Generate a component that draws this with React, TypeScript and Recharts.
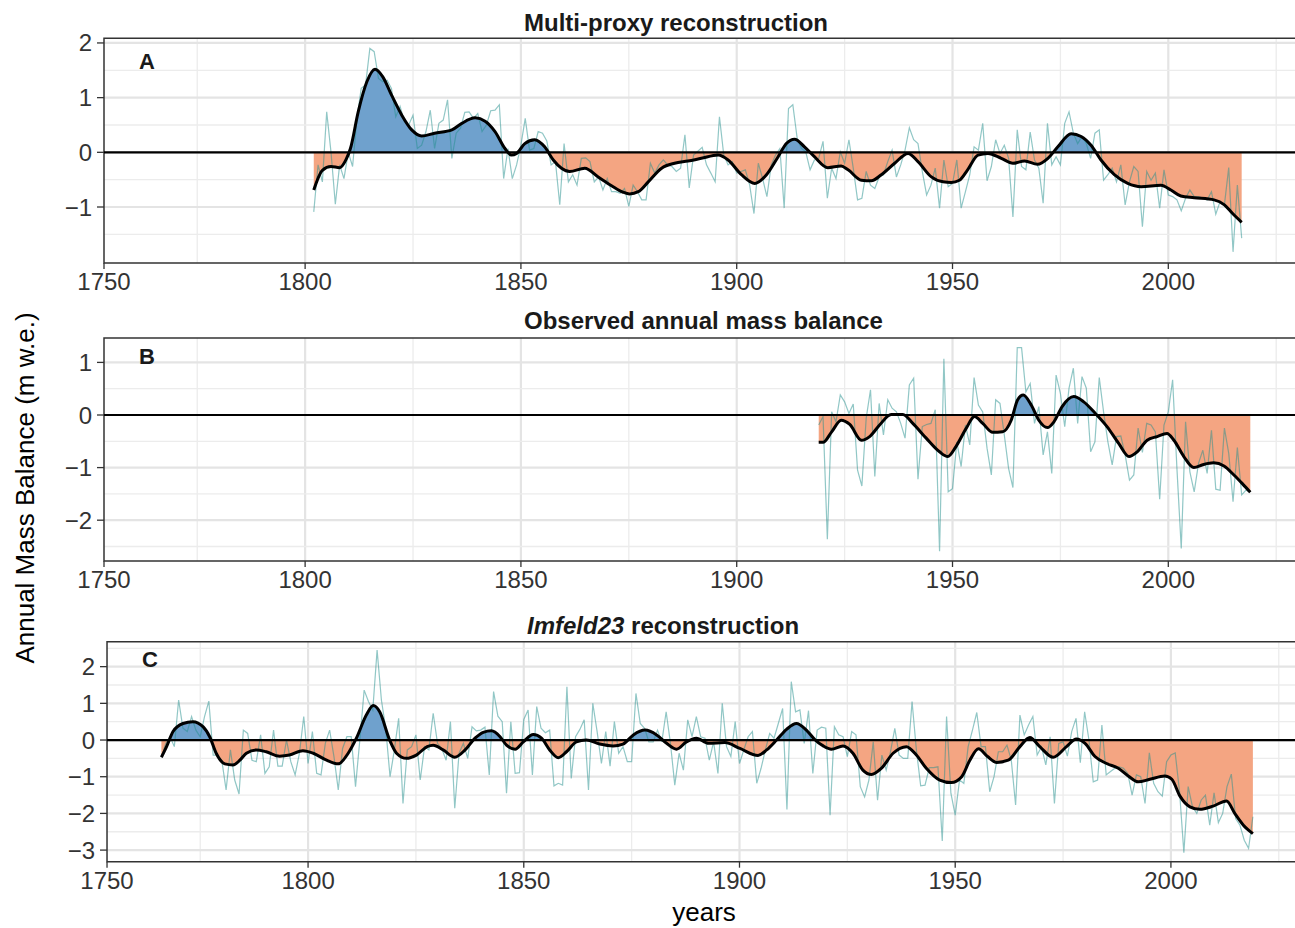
import { ComposedChart, Area, Line, XAxis, YAxis, CartesianGrid, ReferenceLine, ReferenceArea } from "recharts"

const FONT = "'Liberation Sans', Arial, Helvetica, sans-serif"
const BLUE = "#6fa1cd"
const SALMON = "#f4a582"
const TEAL = "#23908e"

const xTicks = [1753.4, 1800, 1850, 1900, 1950, 2000]
const xTickLabels = ["1750", "1800", "1850", "1900", "1950", "2000"]
const xMajor = [1800, 1850, 1900, 1950, 2000]
const xMinor = [1775, 1825, 1875, 1925, 1975, 2025]

// A: multi-proxy reconstruction
const proxyStart = 1802
const proxyAnnual = [
  -1.09, -0.23, -0.54, 0.74, 0.0, -0.95, -0.23, -0.48,
  0.0, -0.26, 0.62, 1.17, 1.23, 1.90, 1.84, 1.35, 1.29, 1.32,
  1.17, 0.65, 0.84, 0.56, 0.50, 0.68, 0.07, 0.13, 0.38, 0.77,
  0.07, 0.53, 0.59, 0.96, -0.11, 0.35, 0.44, 0.73, 0.74, 0.62,
  0.71, 0.38, 0.50, 0.76, 0.77, 0.87, -0.48, 0.07, -0.48, -0.23,
  0.13, 0.62, 0.04, 0.07, 0.38, 0.35, 0.21, -0.23, -0.17, -0.96,
  0.16, -0.54, -0.41, -0.60, -0.11, -0.10, -0.17, -0.54, -0.45, -0.69,
  -0.48, -0.72, -0.72, -0.75, -0.66, -0.99, -0.60, -0.72, -0.87, -0.87,
  -0.20, -0.38, -0.23, -0.14, -0.23, -0.26, -0.35, -0.29, 0.32, -0.65,
  -0.05, 0.02, 0.09, -0.23, -0.38, -0.54, 0.65, -0.05, -0.23, -0.17,
  -0.38, -0.35, -0.32, -0.60, -1.12, -0.20, -0.48, -0.81, -0.23, -0.05,
  0.07, -1.02, 0.80, 0.87, 0.26, 0.07, 0.01, -0.32, -0.14, -0.11,
  0.20, -0.84, -0.29, -0.48, 0.01, -0.20, 0.23, -0.29, -0.87, -0.84,
  -0.35, -0.60, -0.66, -0.45, -0.41, -0.17, 0.04, -0.45, -0.23, 0.04,
  0.45, 0.23, 0.16, -0.35, -0.78, -0.60, -0.29, -1.02, -0.14, -0.63,
  -0.57, -0.14, -1.02, -0.72, -0.41, 0.10, 0.04, 0.53, -0.52, -0.26,
  0.23, -0.02, 0.13, -0.11, -1.18, 0.41, -0.26, -0.32, 0.37, -0.14,
  -0.29, -0.93, 0.53, -0.23, -0.08, -0.23, 0.53, 0.74, 0.35, 0.16,
  0.29, 0.16, -0.11, 0.35, 0.41, -0.51, -0.41, -0.29, -0.54, -0.23,
  -0.96, -0.54, -0.26, -0.35, -1.36, -0.35, -0.51, -0.38, -1.02, -0.32,
  -0.78, -0.81, -0.87, -1.07, -0.84, -0.69, -0.81, -0.81, -0.84, -0.87,
  -0.72, -1.13, -0.90, -0.96, -0.28, -1.82, -0.60, -1.57,
]
const proxySmooth: [number, number][] = [
  [1802, -0.69], [1804, -0.33], [1806, -0.26], [1808, -0.28], [1809.5, -0.13], [1810.5, 0.07],
  [1812.3, 0.74], [1814.3, 1.29], [1816.2, 1.52], [1818, 1.38], [1820, 1.05], [1822.4, 0.68],
  [1824.7, 0.41], [1827, 0.30], [1830, 0.35], [1834, 0.41], [1836.3, 0.53], [1839.4, 0.63],
  [1841.7, 0.57], [1844, 0.38], [1846.3, 0.07], [1847.8, -0.05], [1849, -0.02], [1850.9, 0.16],
  [1853.2, 0.23], [1855.5, 0.10], [1857.5, -0.14], [1859.4, -0.29], [1861.3, -0.35], [1864.8, -0.29],
  [1867.9, -0.45], [1871, -0.61], [1873.7, -0.73], [1875.2, -0.76], [1877.2, -0.72], [1879.5, -0.54],
  [1882.6, -0.29], [1885.6, -0.20], [1888.7, -0.16], [1891.8, -0.11], [1895.7, -0.05], [1898, -0.14],
  [1901.1, -0.41], [1904.2, -0.57], [1906.9, -0.41], [1909.6, -0.08], [1911.5, 0.16], [1913.4, 0.24],
  [1915.7, 0.10], [1918, -0.08], [1921.1, -0.28], [1924.2, -0.25], [1925.8, -0.32], [1928.9, -0.51],
  [1931.2, -0.52], [1933.5, -0.41], [1936.6, -0.20], [1939.7, -0.02], [1942, -0.17], [1945.1, -0.45],
  [1947.8, -0.54], [1949.7, -0.55], [1951.6, -0.51], [1953.5, -0.32], [1955.9, -0.05], [1958.2, -0.02],
  [1961.3, -0.11], [1964, -0.20], [1966.7, -0.16], [1969.7, -0.22], [1972.1, -0.11], [1974.4, 0.10],
  [1977.5, 0.34], [1979.8, 0.29], [1982.1, 0.13], [1984.4, -0.14], [1987.5, -0.41], [1990.6, -0.57],
  [1993.7, -0.63], [1998.3, -0.60], [2000.6, -0.69], [2002.9, -0.80], [2006, -0.83], [2010.6, -0.87],
  [2013, -0.96], [2014.9, -1.12], [2017, -1.28],
]

// B: observed annual mass balance
const obsStart = 1919
const obsAnnual = [
  -0.19,
  -0.03, -2.36, 0.06, -0.13, 0.38, 0.25, 0.03, 0.21, -1.05, -1.35,
  -0.06, 0.48, -1.17, 0.22, -0.38, 0.29, 0.13, 0.06, -0.16, -0.44,
  0.57, 0.70, -1.22, -0.22, -0.18, -0.16, 0.10, -2.59, 1.07, -1.46,
  -1.40, -0.51, -0.98, -0.19, -0.57, 0.71, 0.19, 0.06, -0.63, -1.14,
  0.29, 0.22, -0.38, -1.02, -1.38, 1.28, 1.28, 0.44, 0.60, -0.16,
  0.16, -0.76, -0.32, -1.11, 0.76, 0.41, -0.22, 0.51, 0.89, -0.16,
  0.73, 0.51, -0.70, -0.51, 0.71, 0.06, -0.51, -0.95, -0.41, -0.40,
  -0.76, -1.24, -1.14, -0.25, -0.71, -0.16, -0.19, -0.32, -1.60, -0.19,
  0.06, 0.67, -1.02, -2.54, -0.13, -1.08, -1.46, -0.92, -0.67, -1.11,
  -0.29, -1.41, -1.43, -0.25, -0.73, -1.65, -0.62, -1.52, -1.43, -1.46,
]
const obsSmooth: [number, number][] = [
  [1919, -0.52], [1920, -0.52], [1922, -0.32], [1924.2, -0.10], [1926.2, -0.18], [1928.9, -0.48],
  [1930.8, -0.41], [1933.1, -0.19], [1935.8, 0.01], [1938.5, 0.01], [1940.8, -0.16], [1943.9, -0.44],
  [1947, -0.70], [1948.9, -0.79], [1950.8, -0.60], [1953.2, -0.25], [1955.1, -0.03], [1957, -0.16],
  [1959.3, -0.33], [1961.6, -0.32], [1963.6, -0.10], [1965.1, 0.29], [1966.4, 0.38], [1968.3, 0.18],
  [1970, -0.10], [1972, -0.24], [1973.5, -0.13], [1975.4, 0.16], [1978.1, 0.35], [1980.4, 0.25],
  [1983.1, 0.03], [1985.8, -0.22], [1988.5, -0.54], [1990.9, -0.79], [1992.8, -0.70], [1995.1, -0.48],
  [1997.4, -0.41], [1999.7, -0.35], [2001.3, -0.48], [2003.6, -0.79], [2005.9, -1.00], [2008.2, -0.94],
  [2010.5, -0.91], [2012.9, -0.97], [2015.2, -1.14], [2017.1, -1.30], [2019, -1.47],
]

// C: Imfeld23 reconstruction
const imfStart = 1766
const imfAnnual = [
  -0.47, -0.10, 0.09, -0.18,
  1.09, 0.32, 0.23, 0.64, 0.27, 0.09, 0.64, 1.06, -0.41, -0.41,
  -0.55, -1.36, -0.27, -1.09, -1.47, 0.27, 0.18, -0.55, -0.59, 0.14,
  -0.91, -0.73, 0.27, -0.71, -0.71, 0.00, -0.59, -0.95, -0.36, 0.64,
  -0.64, 0.23, -0.91, -0.95, -0.09, 0.27, -0.45, -1.36, -0.23, 0.09,
  0.09, -1.27, 0.00, 1.36, 1.05, 0.82, 2.45, 1.09, 0.32, -1.00,
  -0.27, 0.59, -1.73, -0.27, -0.18, 0.14, -1.09, -0.18, -0.27, 0.73,
  -0.09, -0.23, -0.55, 0.50, -1.86, -0.36, -0.09, -0.50, 0.36, 0.25,
  0.27, 0.35, -0.95, 1.32, 0.65, 0.50, -1.45, 0.50, -0.91, -0.89,
  0.56, 0.82, -0.95, 0.91, 0.32, 0.20, 0.27, -1.25, -1.18, -1.23,
  1.45, -1.05, 0.09, 0.29, 0.55, -1.36, 1.00, 0.23, -0.64, 0.23,
  -0.71, 0.50, -0.36, -0.18, -0.59, -0.59, 1.27, 0.45, 0.32, -0.05,
  -0.05, 0.27, -0.05, 0.77, -0.09, -1.23, -0.36, -0.82, 0.55, 0.09,
  0.64, 0.09, 0.05, -0.55, -0.05, -0.91, 1.00, -0.18, -0.45, 0.50,
  -0.64, -0.27, 0.09, 0.23, -1.18, -0.77, -0.27, 0.18, 0.05, 0.45,
  0.86, -1.89, 1.59, 0.77, 0.82, -0.09, 0.80, -0.91, 0.27, 0.35,
  0.32, -2.05, 0.36, 0.14, 0.09, -0.45, 0.23, 0.14, -1.27, -1.55,
  -1.09, -0.05, -1.64, -0.41, -0.82, -0.32, 0.32, -0.41, -0.50, -0.50,
  1.05, -0.27, -1.25, -1.23, -0.75, -0.75, -0.73, -2.75, 0.64, -1.45,
  -2.05, -1.09, -1.18, -0.18, 0.27, 0.75, -0.18, -0.18, -1.41, -1.00,
  -0.32, -0.32, -0.14, -0.55, -1.77, 0.68, 0.14, 0.41, 0.64, -0.41,
  -0.18, -0.68, 0.09, -1.73, -0.09, -0.05, -0.44, 0.23, 0.59, -0.62,
  0.77, 0.00, -1.14, -1.09, 0.41, -0.95, -0.86, -0.77, -0.73, -0.77,
  -0.91, -1.50, -0.95, -1.00, -1.73, -0.35, -1.18, -1.41, -1.53, -0.59,
  -0.41, -0.35, -1.41, -3.07, -1.27, -1.82, -2.00, -1.64, -1.50, -2.32,
  -1.44, -2.25, -2.00, -1.27, -0.93, -2.14, -2.32, -2.73, -2.95, -2.09,
]
const imfSmooth: [number, number][] = [
  [1766, -0.47], [1767.2, -0.18], [1768.7, 0.23], [1771, 0.45], [1773.3, 0.50], [1775.7, 0.36],
  [1777.2, 0.09], [1778.7, -0.36], [1780.7, -0.65], [1782.6, -0.68], [1784.2, -0.55], [1785.7, -0.36],
  [1788, -0.27], [1790.3, -0.32], [1793.4, -0.44], [1795.7, -0.41], [1798.8, -0.29], [1801.2, -0.36],
  [1804.3, -0.55], [1807, -0.65], [1809.3, -0.36], [1811.2, 0.05], [1813.5, 0.68], [1815.1, 0.94],
  [1816.6, 0.77], [1818.9, 0.0], [1820.5, -0.36], [1822.8, -0.50], [1825.1, -0.41], [1827.6, -0.18],
  [1829, -0.14], [1831.3, -0.27], [1834, -0.47], [1836.4, -0.27], [1838.7, 0.05], [1840.6, 0.21],
  [1842.5, 0.25], [1844.5, 0.09], [1846, -0.14], [1848, -0.25], [1849.9, -0.05], [1852.2, 0.15],
  [1854.1, 0.05], [1856, -0.27], [1858, -0.48], [1859.9, -0.32], [1862.2, -0.05], [1864.5, 0.0],
  [1867.6, -0.11], [1870.7, -0.16], [1873, -0.11], [1875.4, 0.14], [1878.1, 0.27], [1880.8, 0.14],
  [1883.1, -0.09], [1885.4, -0.25], [1887.7, -0.05], [1890, 0.05], [1892.8, -0.09], [1896.6, -0.07],
  [1900.1, -0.23], [1904.3, -0.42], [1906.3, -0.27], [1908.6, 0.0], [1910.9, 0.29], [1913.2, 0.45],
  [1915.5, 0.27], [1917.4, 0.02], [1919.4, -0.16], [1921.3, -0.25], [1924, -0.16], [1926.3, -0.36],
  [1928.6, -0.82], [1930.6, -0.94], [1932.9, -0.77], [1935.6, -0.36], [1938.7, -0.18], [1941, -0.41],
  [1943.3, -0.77], [1946.4, -1.09], [1949.1, -1.16], [1951.5, -1.00], [1953.4, -0.55], [1955.4, -0.24],
  [1957.5, -0.45], [1959.6, -0.61], [1962.3, -0.55], [1965, -0.18], [1967.3, 0.07], [1969.6, -0.18],
  [1972.7, -0.47], [1975.8, -0.18], [1978.1, 0.03], [1980.1, -0.09], [1982.4, -0.45], [1985.1, -0.64],
  [1987.8, -0.77], [1990.1, -0.98], [1992.4, -1.14], [1995.1, -1.07], [1998.6, -0.98], [2000.2, -1.07],
  [2002.1, -1.53], [2004.4, -1.82], [2006.7, -1.89], [2009.8, -1.80], [2012.9, -1.66], [2014.8, -2.00],
  [2016.8, -2.32], [2019, -2.55],
]

const toAnnual = (start: number, vals: number[]) => vals.map((v, i) => ({ year: start + i, v }))
const toSmooth = (pts: [number, number][]) => pts.map(([year, v]) => ({ year, v }))
const minus = (v: number) => String(v).replace("-", "\u2212")

type PanelProps = {
  id: string
  top: number
  plotLeft: number
  plotTop: number
  plotHeight: number
  xMax: number
  yDomain: [number, number]
  yTicks: number[]
  yMinor: number[]
  annual: { year: number; v: number }[]
  smooth: { year: number; v: number }[]
}

// plot runs a few px past the page edge so its right border is cut off, as in the original
const CHART_W = 1298

function Panel({ id, top, plotLeft, plotTop, plotHeight, xMax, yDomain, yTicks, yMinor, annual, smooth }: PanelProps) {
  const vals = smooth.map(d => d.v)
  const hi = Math.max(0, ...vals)
  const lo = Math.min(0, ...vals)
  const off = hi / (hi - lo)
  const axisH = 40
  const yAxisW = 60
  const xDomain: [number, number] = [xTicks[0], xMax]
  const tickStyle = { fontSize: 24, fill: "#333", fontFamily: FONT }

  return (
    <div style={{ position: "absolute", left: 0, top }}>
      <ComposedChart
        width={CHART_W}
        height={plotTop + plotHeight + axisH}
        margin={{ top: plotTop, right: 0, bottom: 0, left: plotLeft - yAxisW }}
      >
        <defs>
          <linearGradient id={id} x1="0" y1="0" x2="0" y2="1">
            <stop offset={off} stopColor={BLUE} />
            <stop offset={off} stopColor={SALMON} />
          </linearGradient>
        </defs>
        <CartesianGrid horizontal={false} verticalValues={xMinor} stroke="#ececec" strokeWidth={1.3} />
        <CartesianGrid horizontal={false} verticalValues={xMajor} stroke="#e4e4e4" strokeWidth={2.2} />
        <CartesianGrid vertical={false} horizontalValues={yMinor} stroke="#ececec" strokeWidth={1.3} />
        <CartesianGrid vertical={false} horizontalValues={yTicks} stroke="#e4e4e4" strokeWidth={2.2} />
        <XAxis
          type="number"
          dataKey="year"
          domain={xDomain}
          allowDataOverflow
          ticks={xTicks}
          interval={0}
          height={axisH}
          axisLine={false}
          tickSize={6}
          tickMargin={4}
          tickLine={{ stroke: "#333", strokeWidth: 1.3 }}
          tick={tickStyle}
          tickFormatter={(v: number) => xTickLabels[xTicks.indexOf(v)] ?? String(v)}
        />
        <YAxis
          type="number"
          domain={yDomain}
          allowDataOverflow
          ticks={yTicks}
          interval={0}
          width={yAxisW}
          axisLine={false}
          tickSize={7}
          tickMargin={5}
          tickLine={{ stroke: "#333", strokeWidth: 1.3 }}
          tick={tickStyle}
          tickFormatter={minus}
        />
        <Area
          data={smooth}
          dataKey="v"
          type="monotone"
          baseValue={0}
          stroke="none"
          fill={`url(#${id})`}
          fillOpacity={1}
          isAnimationActive={false}
        />
        <Line
          data={annual}
          dataKey="v"
          type="linear"
          stroke={TEAL}
          strokeOpacity={0.5}
          strokeWidth={1.2}
          dot={false}
          isAnimationActive={false}
        />
        <ReferenceLine y={0} stroke="#000" strokeWidth={2.2} />
        <Line
          data={smooth}
          dataKey="v"
          type="monotone"
          stroke="#000"
          strokeWidth={3}
          dot={false}
          isAnimationActive={false}
        />
        <ReferenceArea
          x1={xDomain[0]}
          x2={xDomain[1]}
          y1={yDomain[0]}
          y2={yDomain[1]}
          fill="none"
          fillOpacity={0}
          stroke="#333"
          strokeWidth={1.5}
        />
      </ComposedChart>
    </div>
  )
}

const titleStyle: React.CSSProperties = {
  position: "absolute",
  left: 524,
  fontFamily: FONT,
  fontSize: 24,
  fontWeight: "bold",
  color: "#1a1a1a",
  lineHeight: "24px",
  whiteSpace: "nowrap",
}
const letterStyle: React.CSSProperties = {
  position: "absolute",
  fontFamily: FONT,
  fontSize: 22,
  fontWeight: "bold",
  color: "#1a1a1a",
  lineHeight: "22px",
}

export default function App() {
  return (
    <div style={{ position: "absolute", left: 0, top: 0, width: 1295, height: 928, background: "#fff", overflow: "hidden" }}>
      <Panel
        id="gradA"
        top={0}
        plotLeft={104}
        plotTop={38.3}
        plotHeight={224.7}
        xMax={2030.05}
        yDomain={[-2.024, 2.085]}
        yTicks={[-1, 0, 1, 2]}
        yMinor={[-1.5, -0.5, 0.5, 1.5]}
        annual={toAnnual(proxyStart, proxyAnnual)}
        smooth={toSmooth(proxySmooth)}
      />
      <Panel
        id="gradB"
        top={300}
        plotLeft={104}
        plotTop={38}
        plotHeight={223}
        xMax={2030.05}
        yDomain={[-2.776, 1.464]}
        yTicks={[-2, -1, 0, 1]}
        yMinor={[-2.5, -1.5, -0.5, 0.5]}
        annual={toAnnual(obsStart, obsAnnual)}
        smooth={toSmooth(obsSmooth)}
      />
      <Panel
        id="gradC"
        top={600}
        plotLeft={107}
        plotTop={41.7}
        plotHeight={220}
        xMax={2029.45}
        yDomain={[-3.316, 2.68]}
        yTicks={[-3, -2, -1, 0, 1, 2]}
        yMinor={[-2.5, -1.5, -0.5, 0.5, 1.5, 2.5]}
        annual={toAnnual(imfStart, imfAnnual)}
        smooth={toSmooth(imfSmooth)}
      />

      <div style={{ ...titleStyle, top: 11 }}>Multi-proxy reconstruction</div>
      <div style={{ ...titleStyle, top: 309 }}>Observed annual mass balance</div>
      <div style={{ ...titleStyle, top: 614, left: 527 }}>
        <i>Imfeld23</i> reconstruction
      </div>

      <div style={{ ...letterStyle, left: 139, top: 51 }}>A</div>
      <div style={{ ...letterStyle, left: 139, top: 346 }}>B</div>
      <div style={{ ...letterStyle, left: 142, top: 649 }}>C</div>

      <div
        style={{
          position: "absolute",
          left: 704,
          top: 912,
          transform: "translate(-50%, -50%)",
          fontFamily: FONT,
          fontSize: 26,
          lineHeight: "26px",
          color: "#000",
          whiteSpace: "nowrap",
        }}
      >
        years
      </div>
      <div
        style={{
          position: "absolute",
          left: 25,
          top: 488,
          transform: "translate(-50%, -50%) rotate(-90deg)",
          fontFamily: FONT,
          fontSize: 26,
          color: "#000",
          whiteSpace: "nowrap",
        }}
      >
        Annual Mass Balance (m w.e.)
      </div>
    </div>
  )
}
